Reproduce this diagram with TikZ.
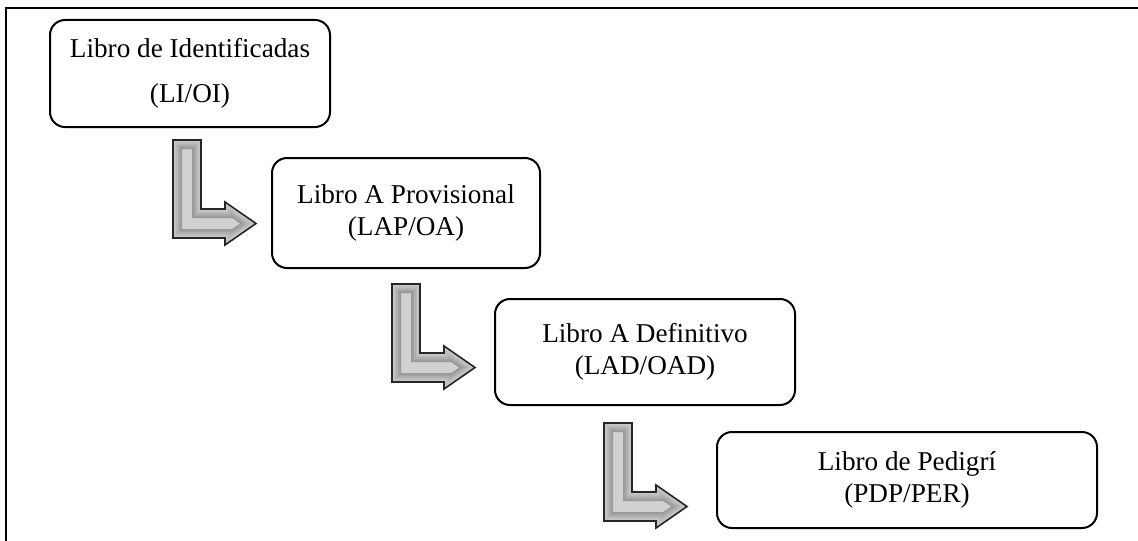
\documentclass[tikz,border=0pt]{standalone}
\usepackage{fontspec}
\setmainfont{Liberation Serif}
\newcommand{\lbendshape}{(0,0) -- (28,0) -- (28,69) -- (52,69) -- (52,62) -- (83,83.5) -- (52,105) -- (52,98) -- (0,98) -- cycle}
\tikzset{
  libro/.style={draw,line width=1pt,rounded corners=7.5pt,inner sep=0pt,align=center,
    font=\fontsize{13.6}{16}\selectfont},
  pics/lbend/.style={code={
    \begin{scope}
      \clip \lbendshape;
      \fill[gray!36] (-5,-5) rectangle (90,110);
      \foreach \w/\c in {9/80,7.5/72,6/64,4.5/56,3/48,1.5/42}{
        \draw[gray!\c,line width=\w pt] \lbendshape;}
    \end{scope}
    \draw[black!85,line width=0.8pt] \lbendshape;
  }}
}
\begin{document}
\begin{tikzpicture}[x=0.5pt,y=-0.5pt]
    \useasboundingbox (0,0) rectangle (1138,540);
    \clip (0,0) rectangle (1138,540);
    % Marco
    \draw[line width=1pt] (6,8) rectangle (1160,570);
    % Libros
    \node[libro,minimum width=140pt,minimum height=53.5pt,
      font=\fontsize{13.6}{22.5}\selectfont] (li) at (190,73.5) {Libro de Identificadas\\(LI/OI)};
    \node[libro,minimum width=134pt,minimum height=55pt] (lap) at (406,213) {Libro A Provisional\\(LAP/OA)};
    \node[libro,minimum width=150pt,minimum height=53pt] (lad) at (645,352) {Libro A Definitivo\\(LAD/OAD)};
    \node[libro,minimum width=190pt,minimum height=48pt] (pdp) at (907,480) {Libro de Pedigrí\\(PDP/PER)};
    % Flechas
    \pic (li2lap) at (173,140) {lbend};
    \pic (lap2lad) at (392,284) {lbend};
    \pic (lad2pdp) at (604,423) {lbend};
\end{tikzpicture}
\end{document}
